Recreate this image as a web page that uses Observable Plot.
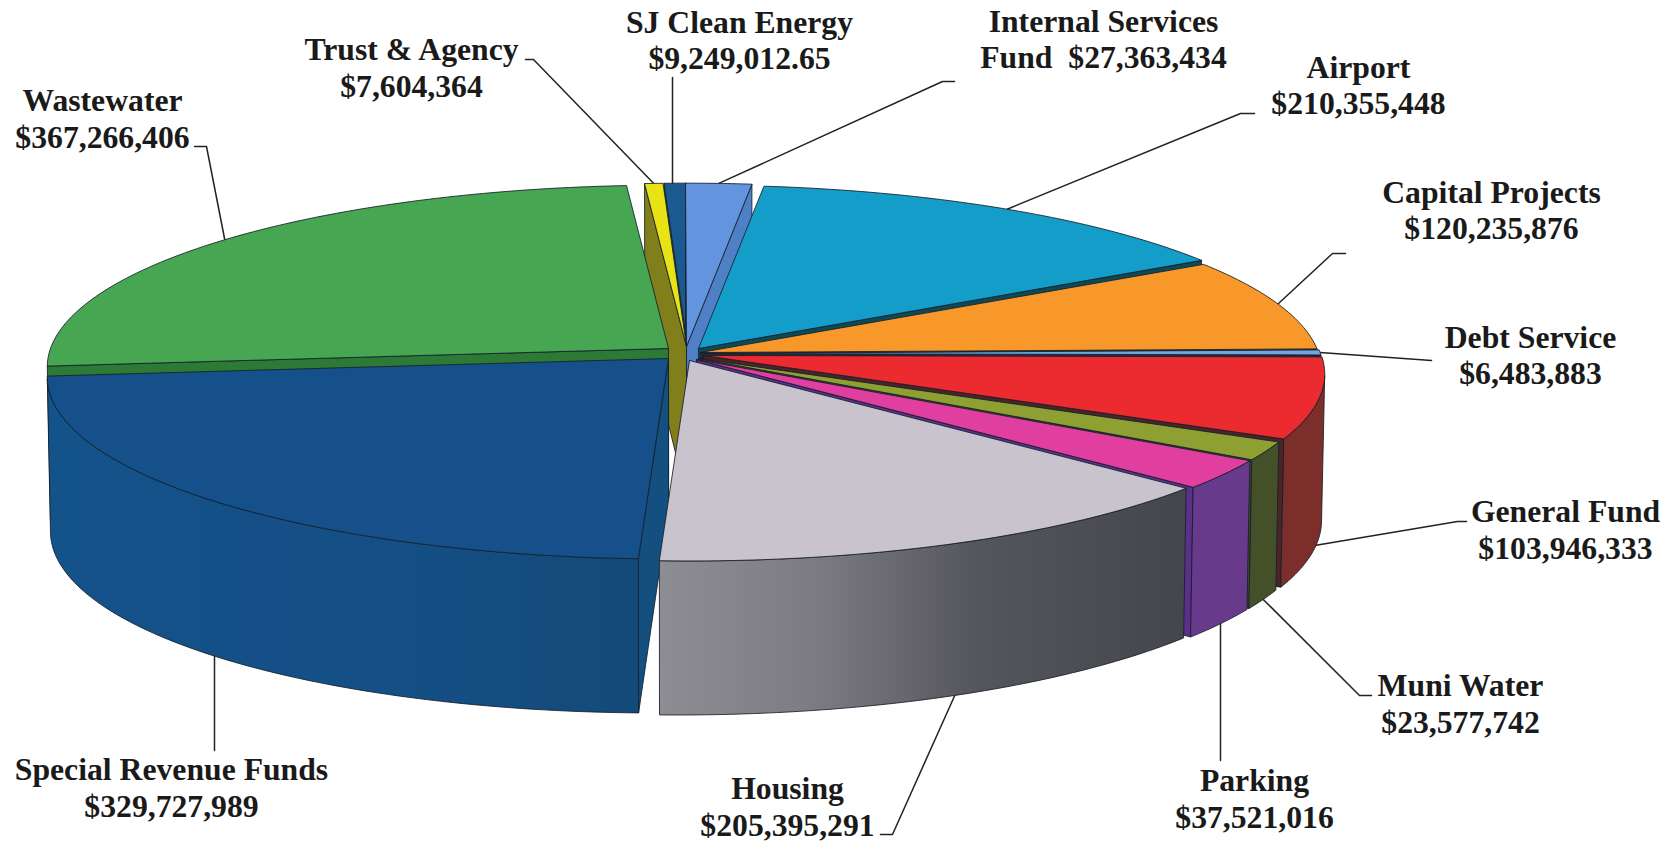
<!DOCTYPE html>
<html>
<head>
<meta charset="utf-8">
<title>Fund budget pie</title>
<script src="https://cdn.jsdelivr.net/npm/d3@7"></script>
<script src="https://cdn.jsdelivr.net/npm/@observablehq/plot@0.6"></script>
<style>
html,body{margin:0;padding:0;background:#fff}
svg{display:block}
</style>
</head>
<body>
<div id="root"></div>
<script>
// ---- data, clockwise from the top of the pie ----
const funds = ["SJ Clean Energy","Internal Services Fund","Airport","Capital Projects","Debt Service","General Fund","Muni Water","Parking","Housing","Special Revenue Funds","Wastewater","Trust & Agency"];
const amounts = [9249012.65,27363434,210355448,120235876,6483883,103946333,23577742,37521016,205395291,329727989,367266406,7604364];
const labelFirst = ["SJ Clean Energy","Internal Services","Airport","Capital Projects","Debt Service","General Fund","Muni Water","Parking","Housing","Special Revenue Funds","Wastewater","Trust & Agency"];
const labelSecond = ["$9,249,012.65","Fund\u00a0\u00a0$27,363,434","$210,355,448","$120,235,876","$6,483,883","$103,946,333","$23,577,742","$37,521,016","$205,395,291","$329,727,989","$367,266,406","$7,604,364"];

// ---- styles ----
const topColors = ["#1b5a90","#6394de","#149dc8","#f8982a","#74a4de","#ec2b30","#8fa033","#e03fa0","#c9c3cd","#15508a","#46a651","#e9e214"];
const cutColors = ["#134a74","#4f80c6","#0d4a58","#2e2a2c","#2b2b3a","#4a2428","#3f4a28","#5b2f8a","#4a4a52","#14507f","#2c7a36","#807f1c"];
const arcColors = ["#134a74","#4f80c6","#0d4a58","#5c3a1c","#3b4a6a","#7c2f2a","#445028","#683a8c","url(#housingWall)","url(#specialWall)","#2c7a36","#807f1c"];

// ---- layout: perspective disc, slice explosion, label placement ----
const startAngle = -2.4;
const disc = {cx: 688, cy: 358, rx: 618, ry: 180, persp: 0.102, depth: 150};
const shiftX = [-1,-2,10,12,14,15,10,8,1,-20,-20,-2];
const shiftY = [-12,-12,-10,-6,-5,-3,0,1,2,0,-10,-12];
const textX = [739,1103,1358,1491,1530,1565,1460,1254,787,171,102,411];
const textY1 = [32,31,77,202,347,521,695,790,798,779,110,59];
const textY2 = [68,67,113,238,383,558,732,827,835,816,147,96];
const elbowX = [672,942,1240,1332,1431,1457,1359,1220,892,214,206,533];
const elbowY = [77,81,113,253,360,521,695,760,834,750,146,59];
const endX = [672,954,1254,1345,1431,1466,1371,1220,880,214,194,525];
const endY = [77,81,113,253,360,521,695,760,834,750,146,59];
const verticalLeader = [true,false,false,false,false,false,false,true,false,true,false,false];

// ---- geometry, all derived from the amounts ----
const total = d3.sum(amounts);
const rad = Math.PI / 180;
function topPoint(theta, r, i) {
  const u = r * Math.sin(theta * rad), v = r * Math.cos(theta * rad), w = 1 + disc.persp * v;
  return {x: disc.cx + disc.rx * u / w + shiftX[i], y: disc.cy - disc.ry * v / w + shiftY[i], u, v};
}
function lowPoint(p) {
  return {x: disc.cx + (p.x - disc.cx) * 0.995, y: p.y + disc.depth - 4 * p.u - 4 * p.v};
}
let acc = startAngle;
const slices = funds.map((name, i) => {
  const a0 = acc, a1 = acc + amounts[i] / total * 360;
  acc = a1;
  return {i, name, a0, a1, mid: (a0 + a1) / 2};
});
const rows = [];
function piece(key, pts, fill, stroke) {
  [...pts, pts[0]].forEach(p => rows.push({key, x: p.x, y: p.y, fill, stroke}));
}
const paintOrder = d3.sort(slices, s => -Math.cos(s.mid * rad));
for (const s of paintOrder) {
  const i = s.i, n = Math.max(4, Math.ceil(s.a1 - s.a0));
  const arc = d3.range(n + 1).map(k => topPoint(s.a0 + (s.a1 - s.a0) * k / n, 1, i));
  const tip = topPoint(0, 0, i);
  const tipLow = lowPoint(tip);
  const edge = "#15202c";
  // only the faces that turn towards the viewer are drawn
  if (Math.sin(s.a0 * rad) < 0) piece(s.name + " cutA", [tip, arc[0], lowPoint(arc[0]), tipLow], cutColors[i], edge);
  if (Math.sin(s.a1 * rad) > 0) piece(s.name + " cutB", [tip, arc[n], lowPoint(arc[n]), tipLow], cutColors[i], edge);
  const front = arc.filter(p => p.v < -disc.persp);
  if (front.length > 1) piece(s.name + " arc", [...front, ...front.map(lowPoint).reverse()], arcColors[i], edge);
  piece(s.name + " top", [tip, ...arc], topColors[i], edge);
}
// leader lines start on the middle of each slice's outer edge
const leaders = [];
for (const s of slices) {
  const a = topPoint(s.mid, 1, s.i);
  const isFront = a.v < -0.1;
  const start = isFront ? lowPoint(a) : a;
  const vertical = verticalLeader[s.i];
  leaders.push({key: s.name, x: vertical ? elbowX[s.i] : start.x, y: start.y + (vertical ? (isFront ? -4 : 4) : 0)});
  leaders.push({key: s.name, x: elbowX[s.i], y: elbowY[s.i]});
  leaders.push({key: s.name, x: endX[s.i], y: endY[s.i]});
}
const textRows = slices.flatMap(s => [
  {x: textX[s.i], y: textY1[s.i], t: labelFirst[s.i]},
  {x: textX[s.i], y: textY2[s.i], t: labelSecond[s.i]}
]);

const figure = Plot.plot({
  width: 1675, height: 843,
  margin: 0,
  x: {domain: [0, 1675], range: [0, 1675], axis: null},
  y: {domain: [0, 843], range: [0, 843], axis: null},
  color: {type: "identity"},
  style: {background: "#fff"},
  marks: [
    Plot.line(leaders, {x: "x", y: "y", z: "key", stroke: "#222", strokeWidth: 1.5}),
    Plot.line(rows, {x: "x", y: "y", z: "key", fill: "fill", stroke: "stroke", strokeWidth: 1, strokeOpacity: 0.85}),
    Plot.text(textRows, {x: "x", y: "y", text: "t", textAnchor: "middle", lineAnchor: "bottom",
      fontFamily: "Liberation Serif", fontWeight: "bold", fontSize: 31.7, fill: "#1a1a1a"})
  ]
});
const defs = d3.select(figure).append("defs");
function gradient(id, stops) {
  const g = defs.append("linearGradient").attr("id", id).attr("x1", 0).attr("x2", 1).attr("y1", 0).attr("y2", 0);
  stops.forEach(([o, c]) => g.append("stop").attr("offset", o).attr("stop-color", c));
}
gradient("housingWall", [[0, "#8f8d94"], [0.3, "#7c7b82"], [0.6, "#55555c"], [1, "#45464c"]]);
gradient("specialWall", [[0, "#14528a"], [0.6, "#144f85"], [1, "#134a78"]]);
document.getElementById("root").append(figure);
</script>
</body>
</html>
